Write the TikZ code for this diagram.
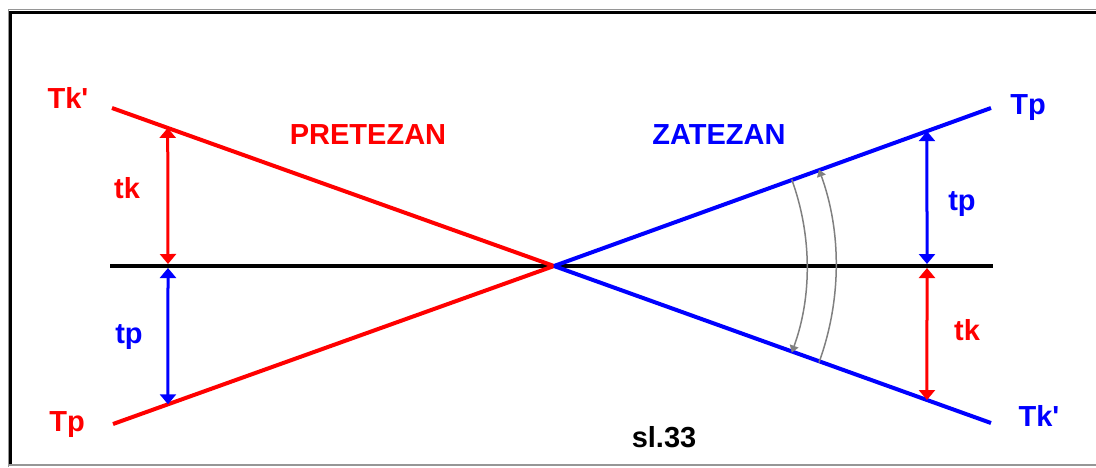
\documentclass[tikz,border=0pt]{standalone}
\usepackage{fontspec}
\setmainfont{Liberation Sans}
\usetikzlibrary{arrows.meta,calc}
\definecolor{Red}{RGB}{255,0,0}
\definecolor{Blue}{RGB}{0,0,255}
\definecolor{ArcGray}{RGB}{128,128,128}
\definecolor{FrameGray}{RGB}{150,150,150}
\tikzset{
  lbl/.style={font=\bfseries\fontsize{29}{30}\selectfont,anchor=base,inner sep=0pt},
  redlbl/.style={lbl,text=Red},
  bluelbl/.style={lbl,text=Blue},
  axisline/.style={line width=4pt,draw=black},
  redline/.style={line width=4pt,draw=Red},
  blueline/.style={line width=4pt,draw=Blue},
  dim/.style={{Triangle[length=10pt,width=16pt]}-{Triangle[length=10pt,width=16pt]},line width=3pt},
  anglearc/.style={-{Triangle[length=7pt,width=9pt]},line width=1.5pt,draw=ArcGray}
}
\begin{document}
\begin{tikzpicture}[x=1pt,y=-1pt]
\useasboundingbox (0,0) rectangle (1096,467);
\draw[FrameGray,line width=1pt] (8.5,467) -- (8.5,9.5) -- (1096,9.5);
\draw[line width=3pt] (10.5,464) -- (10.5,12.5) -- (1096,12.5);
\draw[FrameGray,line width=2pt] (8,464.5) -- (1096,464.5);

\coordinate (C) at (554,266);
\coordinate (axL) at (110,266);
\coordinate (axR) at (993,266);
\coordinate (TkL) at (112,108);
\coordinate (TpL) at (113,424);
\coordinate (TpR) at (991,108);
\coordinate (TkR) at (991,423);
\draw[axisline] (axL) -- (axR);
\draw[redline] (TkL) -- (C);
\draw[redline] (TpL) -- (C);
\draw[blueline] (C) -- (TpR);
\draw[blueline] (C) -- (TkR);

\coordinate (tkTop) at ($(TkL)!0.126!(C)$);
\coordinate (tpBot) at ($(TpL)!0.1247!(C)$);
\coordinate (mLu) at (168,264);
\coordinate (mLd) at (168,268);
\draw[dim,Red] (tkTop) -- (mLu);
\draw[dim,Blue] (mLd) -- (tpBot);

\coordinate (tpTop) at ($(C)!0.8535!(TpR)$);
\coordinate (tkBot) at ($(C)!0.8535!(TkR)$);
\coordinate (mRu) at (927,264);
\coordinate (mRd) at (927,268);
\draw[dim,Blue] (tpTop) -- (mRu);
\draw[dim,Red] (mRd) -- (tkBot);

\draw[anglearc] ($(C)+(-20:253)$) arc[start angle=-20,end angle=20,radius=253];
\draw[anglearc] ($(C)+(20:282)$) arc[start angle=20,end angle=-20,radius=282];

\node[redlbl] (lblTkL) at (68,108) {Tk\textquotesingle};
\node[redlbl] (lblTpL) at (67,431) {Tp};
\node[redlbl] (lblTkLeft) at (127,198) {tk};
\node[bluelbl] (lblTpLeft) at (129,343) {tp};
\node[redlbl] (pretezan) at (368,144) {PRETEZAN};
\node[bluelbl] (zatezan) at (719,144) {ZATEZAN};
\node[bluelbl] (lblTpR) at (1028,114) {Tp};
\node[bluelbl] (lblTpRight) at (962,210) {tp};
\node[redlbl] (lblTkRight) at (967,340) {tk};
\node[bluelbl] (lblTkR) at (1039,426) {Tk\textquotesingle};
\node[lbl] (slide) at (664,447) {sl.33};
\end{tikzpicture}
\end{document}
